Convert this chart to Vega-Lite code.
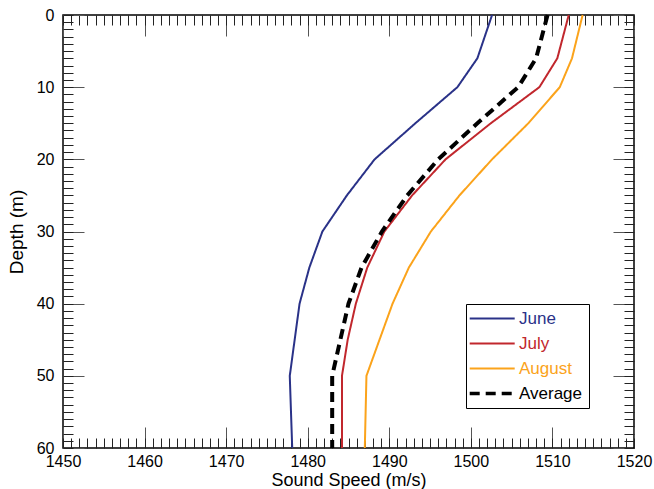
{
  "$schema": "https://vega.github.io/schema/vega-lite/v6.json",
  "width": 571,
  "height": 433,
  "autosize": {"type": "none"},
  "padding": {"left": 63, "top": 15, "right": 20, "bottom": 41},
  "background": "white",
  "config": {
    "font": "Liberation Sans",
    "view": {"stroke": "black", "strokeWidth": 1.5},
    "axis": {"grid": false, "domain": false}
  },
  "data": {
    "values": [
      {"series": "June", "depth": 0, "speed": 1502.6},
      {"series": "June", "depth": 6, "speed": 1500.8},
      {"series": "June", "depth": 10, "speed": 1498.35},
      {"series": "June", "depth": 15, "speed": 1493.2},
      {"series": "June", "depth": 20, "speed": 1488.2},
      {"series": "June", "depth": 25, "speed": 1484.8},
      {"series": "June", "depth": 30, "speed": 1481.8},
      {"series": "June", "depth": 35, "speed": 1480.2},
      {"series": "June", "depth": 40, "speed": 1479.0},
      {"series": "June", "depth": 45, "speed": 1478.4},
      {"series": "June", "depth": 50, "speed": 1477.8},
      {"series": "June", "depth": 60, "speed": 1478.1},
      {"series": "July", "depth": 0, "speed": 1512.0},
      {"series": "July", "depth": 6, "speed": 1510.6},
      {"series": "July", "depth": 10, "speed": 1508.4},
      {"series": "July", "depth": 15, "speed": 1502.45},
      {"series": "July", "depth": 20, "speed": 1496.9},
      {"series": "July", "depth": 25, "speed": 1492.8},
      {"series": "July", "depth": 30, "speed": 1489.4},
      {"series": "July", "depth": 35, "speed": 1487.3},
      {"series": "July", "depth": 40, "speed": 1485.9},
      {"series": "July", "depth": 45, "speed": 1484.9},
      {"series": "July", "depth": 50, "speed": 1484.2},
      {"series": "July", "depth": 60, "speed": 1484.2},
      {"series": "August", "depth": 0, "speed": 1513.7},
      {"series": "August", "depth": 6, "speed": 1512.4},
      {"series": "August", "depth": 10, "speed": 1510.9},
      {"series": "August", "depth": 15, "speed": 1507.05},
      {"series": "August", "depth": 20, "speed": 1502.6},
      {"series": "August", "depth": 25, "speed": 1498.6},
      {"series": "August", "depth": 30, "speed": 1495.1},
      {"series": "August", "depth": 35, "speed": 1492.4},
      {"series": "August", "depth": 40, "speed": 1490.4},
      {"series": "August", "depth": 45, "speed": 1488.8},
      {"series": "August", "depth": 50, "speed": 1487.2},
      {"series": "August", "depth": 60, "speed": 1487.0},
      {"series": "Average", "depth": 0, "speed": 1509.4},
      {"series": "Average", "depth": 6, "speed": 1508.0},
      {"series": "Average", "depth": 10, "speed": 1505.8},
      {"series": "Average", "depth": 15, "speed": 1500.8},
      {"series": "Average", "depth": 20, "speed": 1496.0},
      {"series": "Average", "depth": 25, "speed": 1492.2},
      {"series": "Average", "depth": 30, "speed": 1489.1},
      {"series": "Average", "depth": 35, "speed": 1486.6},
      {"series": "Average", "depth": 40, "speed": 1485.0},
      {"series": "Average", "depth": 45, "speed": 1484.0},
      {"series": "Average", "depth": 50, "speed": 1483.0},
      {"series": "Average", "depth": 60, "speed": 1483.0}
    ]
  },
  "resolve": {"axis": {"x": "independent", "y": "independent"}},
  "layer": [
    {
      "transform": [{"filter": "datum.series !== 'Average'"}],
      "mark": {"type": "line", "strokeJoin": "miter", "strokeWidth": 2},
      "encoding": {
        "x": {
          "field": "speed", "type": "quantitative",
          "scale": {"domain": [1450, 1520], "nice": false, "zero": false},
          "axis": {
            "orient": "bottom", "format": "d",
            "values": [1450, 1460, 1470, 1480, 1490, 1500, 1510, 1520],
            "ticks": false, "labelFontSize": 16, "labelPadding": 5, "labelColor": "black",
            "labelFlush": false, "labelOverlap": false,
            "title": "Sound Speed (m/s)", "titleFontSize": 18, "titleFontWeight": "normal",
            "titleColor": "black", "titlePadding": 2
          }
        },
        "y": {
          "field": "depth", "type": "quantitative",
          "scale": {"domain": [0, 60], "reverse": true, "nice": false, "zero": false},
          "axis": {
            "orient": "left", "format": "d",
            "values": [0, 10, 20, 30, 40, 50, 60],
            "ticks": false, "labelFontSize": 16, "labelPadding": 9, "labelColor": "black",
            "labelFlush": false, "labelOverlap": false,
            "title": "Depth (m)", "titleFontSize": 19, "titleFontWeight": "normal",
            "titleColor": "black", "titlePadding": 10
          }
        },
        "color": {
          "field": "series", "type": "nominal",
          "scale": {"domain": ["June", "July", "August", "Average"], "range": ["#2a3288", "#c1272d", "#fba31b", "#000000"]},
          "legend": {
            "orient": "none", "legendX": 403, "legendY": 289,
            "title": null,
            "strokeColor": "black", "fillColor": "white",
            "padding": 6,
            "symbolType": "M-1.2,0H3.8", "symbolSize": 324,
            "labelFontSize": 17, "labelOffset": 30, "rowPadding": 7,
            "encode": {
              "labels": {"update": {"fill": {"scale": "color", "field": "label"}}},
              "symbols": {"update": {"strokeWidth": {"signal": "datum.value === 'Average' ? 3.5 : 2"}}}
            }
          }
        },
        "strokeDash": {
          "field": "series", "type": "nominal",
          "scale": {"domain": ["June", "July", "August", "Average"], "range": [[1, 0], [1, 0], [1, 0], [10, 6]]}
        },
        "order": {"field": "depth", "type": "quantitative"}
      }
    },
    {
      "transform": [{"filter": "datum.series === 'Average'"}],
      "mark": {"type": "line", "strokeJoin": "miter", "strokeWidth": 4},
      "encoding": {
        "x": {"field": "speed", "type": "quantitative", "axis": null},
        "y": {"field": "depth", "type": "quantitative", "axis": null},
        "color": {"field": "series", "type": "nominal"},
        "strokeDash": {"field": "series", "type": "nominal"},
        "order": {"field": "depth", "type": "quantitative"}
      }
    },
    {
      "mark": {"type": "point", "opacity": 0},
      "encoding": {
        "x": {"field": "speed", "type": "quantitative", "axis": {"orient": "bottom", "title": null, "labels": false, "values": [1450, 1460, 1470, 1480, 1490, 1500, 1510, 1520], "tickSize": -21, "tickColor": "#555", "tickWidth": 1}},
        "y": {"field": "depth", "type": "quantitative", "axis": {"orient": "left", "title": null, "labels": false, "values": [0, 10, 20, 30, 40, 50, 60], "tickSize": -21, "tickColor": "#555", "tickWidth": 1}}
      }
    },
    {
      "mark": {"type": "point", "opacity": 0},
      "encoding": {
        "x": {"field": "speed", "type": "quantitative", "axis": {"orient": "bottom", "title": null, "labels": false, "values": [1450,1451,1452,1453,1454,1455,1456,1457,1458,1459,1460,1461,1462,1463,1464,1465,1466,1467,1468,1469,1470,1471,1472,1473,1474,1475,1476,1477,1478,1479,1480,1481,1482,1483,1484,1485,1486,1487,1488,1489,1490,1491,1492,1493,1494,1495,1496,1497,1498,1499,1500,1501,1502,1503,1504,1505,1506,1507,1508,1509,1510,1511,1512,1513,1514,1515,1516,1517,1518,1519,1520], "tickSize": -10, "tickColor": "#222", "tickWidth": 1}},
        "y": {"field": "depth", "type": "quantitative", "axis": {"orient": "left", "title": null, "labels": false, "values": [0,1,2,3,4,5,6,7,8,9,10,11,12,13,14,15,16,17,18,19,20,21,22,23,24,25,26,27,28,29,30,31,32,33,34,35,36,37,38,39,40,41,42,43,44,45,46,47,48,49,50,51,52,53,54,55,56,57,58,59,60], "tickSize": -10, "tickColor": "#222", "tickWidth": 1}}
      }
    },
    {
      "mark": {"type": "point", "opacity": 0},
      "encoding": {
        "x": {"field": "speed", "type": "quantitative", "axis": {"orient": "top", "title": null, "labels": false, "values": [1450, 1460, 1470, 1480, 1490, 1500, 1510, 1520], "tickSize": -21, "tickColor": "#555", "tickWidth": 1}},
        "y": {"field": "depth", "type": "quantitative", "axis": {"orient": "right", "title": null, "labels": false, "values": [0, 10, 20, 30, 40, 50, 60], "tickSize": -21, "tickColor": "#555", "tickWidth": 1}}
      }
    },
    {
      "mark": {"type": "point", "opacity": 0},
      "encoding": {
        "x": {"field": "speed", "type": "quantitative", "axis": {"orient": "top", "title": null, "labels": false, "values": [1450,1451,1452,1453,1454,1455,1456,1457,1458,1459,1460,1461,1462,1463,1464,1465,1466,1467,1468,1469,1470,1471,1472,1473,1474,1475,1476,1477,1478,1479,1480,1481,1482,1483,1484,1485,1486,1487,1488,1489,1490,1491,1492,1493,1494,1495,1496,1497,1498,1499,1500,1501,1502,1503,1504,1505,1506,1507,1508,1509,1510,1511,1512,1513,1514,1515,1516,1517,1518,1519,1520], "tickSize": -10, "tickColor": "#222", "tickWidth": 1}},
        "y": {"field": "depth", "type": "quantitative", "axis": {"orient": "right", "title": null, "labels": false, "values": [0,1,2,3,4,5,6,7,8,9,10,11,12,13,14,15,16,17,18,19,20,21,22,23,24,25,26,27,28,29,30,31,32,33,34,35,36,37,38,39,40,41,42,43,44,45,46,47,48,49,50,51,52,53,54,55,56,57,58,59,60], "tickSize": -10, "tickColor": "#222", "tickWidth": 1}}
      }
    }
  ]
}
